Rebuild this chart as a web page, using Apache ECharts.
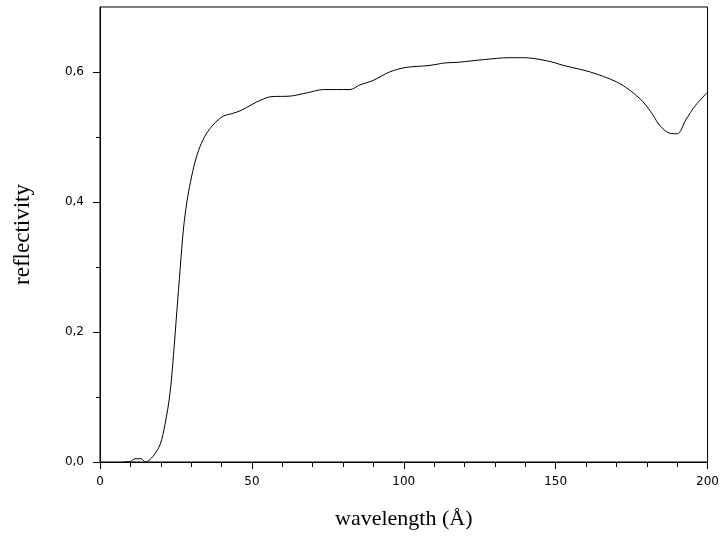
<!DOCTYPE html>
<html>
<head>
<meta charset="utf-8">
<script src="https://cdn.jsdelivr.net/npm/echarts@6/dist/echarts.min.js"></script>
<style>html,body{margin:0;padding:0;background:#fff}#c{width:722px;height:536px}</style>
</head>
<body>
<div id="c"></div>
<script>
var wavelength = [7.5, 10, 11.5, 13.5, 15, 17.5, 19.8, 21.4, 23, 24.2, 25.3, 26.4, 27.5, 28.6, 29.8, 31.3, 32.9, 35, 37.5, 40.5, 43.5, 46.5, 50, 53, 56.3, 62.8, 68.2, 73.6, 82.3, 85.5, 89.9, 95.3, 100.7, 108.3, 113.7, 118, 126.2, 134.8, 139.7, 147.3, 152.7, 161.4, 170, 174.4, 178.8, 182, 184.2, 187.4, 190.1, 192.8, 196.1, 200];
var reflectivity = [0, 0.001, 0.005, 0.005, 0, 0.009, 0.027, 0.058, 0.104, 0.165, 0.232, 0.298, 0.36, 0.40, 0.431, 0.462, 0.485, 0.505, 0.52, 0.532, 0.536, 0.541, 0.55, 0.557, 0.562, 0.563, 0.568, 0.573, 0.573, 0.58, 0.587, 0.6, 0.607, 0.61, 0.614, 0.615, 0.619, 0.622, 0.622, 0.617, 0.61, 0.6, 0.585, 0.572, 0.554, 0.534, 0.518, 0.506, 0.505, 0.526, 0.549, 0.569];
var xMajorTicks = [0, 50, 100, 150, 200];
var xMinorTicks = [10, 20, 30, 40, 60, 70, 80, 90, 110, 120, 130, 140, 160, 170, 180, 190];
var yMajorTicks = [0, 0.2, 0.4, 0.6];
var yMinorTicks = [0.1, 0.3, 0.5];
var xName = 'wavelength (Å)';
var yName = 'reflectivity';

var data = wavelength.map(function (w, i) { return [w, reflectivity[i]]; });
var labelFont = { color: '#000', fontFamily: 'DejaVu Sans', fontSize: 12 };

var chart = echarts.init(document.getElementById('c'), null, { renderer: 'canvas' });
chart.setOption({
  animation: false,
  grid: { left: 100, right: 10, top: 7, bottom: 74, show: true, borderColor: '#000', borderWidth: 1, backgroundColor: 'transparent' },
  xAxis: [{
    type: 'value', min: 0, max: 200,
    name: xName, nameLocation: 'middle', nameGap: 46,
    nameTextStyle: { color: '#000', fontFamily: 'Liberation Serif', fontSize: 22 },
    axisLine: { show: true, lineStyle: { color: '#000', width: 1 } },
    axisTick: { show: true, customValues: xMajorTicks, length: 7, lineStyle: { color: '#000' } },
    axisLabel: Object.assign({ customValues: xMajorTicks, margin: 14, formatter: function (v) { return String(v); } }, labelFont),
    splitLine: { show: false }
  }, {
    type: 'value', min: 0, max: 200, position: 'bottom',
    axisLine: { show: false },
    axisTick: { show: true, customValues: xMinorTicks, length: 5, lineStyle: { color: '#000' } },
    axisLabel: { show: false },
    splitLine: { show: false }
  }],
  yAxis: [{
    type: 'value', min: 0, max: 0.7,
    name: yName, nameLocation: 'middle', nameGap: 66, nameRotate: 90,
    nameTextStyle: { color: '#000', fontFamily: 'Liberation Serif', fontSize: 23 },
    axisLine: { show: true, lineStyle: { color: '#000', width: 1 } },
    axisTick: { show: true, customValues: yMajorTicks, length: 7, lineStyle: { color: '#000' } },
    axisLabel: Object.assign({ customValues: yMajorTicks, margin: 16, formatter: function (v) { return v.toFixed(1).replace('.', ','); } }, labelFont),
    splitLine: { show: false }
  }, {
    type: 'value', min: 0, max: 0.7, position: 'left',
    axisLine: { show: false },
    axisTick: { show: true, customValues: yMinorTicks, length: 4, lineStyle: { color: '#000' } },
    axisLabel: { show: false },
    splitLine: { show: false }
  }],
  series: [{
    type: 'line', data: data, xAxisIndex: 0, yAxisIndex: 0,
    showSymbol: false, smooth: 0.3,
    lineStyle: { color: '#000', width: 1 }
  }]
});
</script>
</body>
</html>
